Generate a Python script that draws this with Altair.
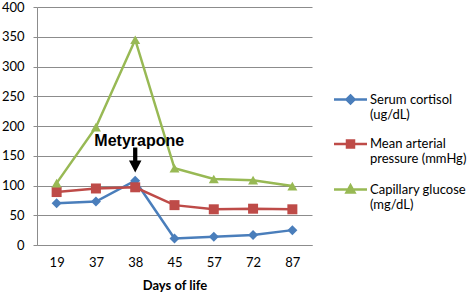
import altair as alt
import pandas as pd

# ---- data ----
days = ["19", "37", "38", "45", "57", "72", "87"]
cortisol = [70, 73, 108, 11, 14, 17, 25]
mean_arterial = [89, 95, 97, 67, 60, 61, 60]
glucose = [104, 198, 345, 129, 111, 109, 99]

series_names = [
    "Serum cortisol|(ug/dL)",
    "Mean arterial|pressure (mmHg)",
    "Capillary glucose|(mg/dL)",
]
series_values = [cortisol, mean_arterial, glucose]
colors = ["#4A7EBB", "#BE4B48", "#98B954"]
marker_shapes = ["diamond", "square", "triangle-up"]
legend_paths = [
    "M-3.3,0H3.3M0,-0.8L0.8,0L0,0.8L-0.8,0Z",
    "M-3.3,0H3.3M-0.7,-0.7H0.7V0.7H-0.7Z",
    "M-3.3,0H3.3M0,-0.85L0.8,0.6H-0.8Z",
]

annotation_label = ["Metyrapone"]
annotation_day = ["38"]
annotation_text_value = [167]
annotation_arrow_value = [143]

y_ticks = list(range(0, 401, 50))

FONT = "Lato"
GRID = "#8C8C8C"

rows = []
for name, vals in zip(series_names, series_values):
    for d, v in zip(days, vals):
        rows.append({"day": d, "value": v, "series": name})
df = pd.DataFrame(rows)

ann_text = pd.DataFrame({"day": annotation_day, "value": annotation_text_value, "label": annotation_label})
ann_arrow = pd.DataFrame({"day": annotation_day, "value": annotation_arrow_value})

x_enc = alt.X(
    "day:O",
    sort=days,
    scale=alt.Scale(type="point", domain=days, padding=0.5),
    axis=alt.Axis(
        title="Days of life",
        labelAngle=0,
        ticks=False,
        grid=False,
        domainColor=GRID,
        labelFont=FONT,
        labelFontSize=13,
        labelColor="#000000",
        labelPadding=11,
        titleFont=FONT,
        titleFontSize=13,
        titleFontWeight="bold",
        titleColor="#000000",
        titlePadding=10,
    ),
)
y_enc = alt.Y(
    "value:Q",
    scale=alt.Scale(domain=[0, 400], nice=False, zero=True),
    axis=alt.Axis(
        title=None,
        values=y_ticks,
        grid=True,
        gridColor=GRID,
        domainColor=GRID,
        tickColor=GRID,
        tickSize=4,
        labelFont=FONT,
        labelFontSize=13,
        labelColor="#000000",
        labelPadding=9,
    ),
)

series_layers = []
for name, col, shp in zip(series_names, colors, marker_shapes):
    base = alt.Chart(df).transform_filter(alt.datum.series == name)
    series_layers.append(
        base.mark_line(strokeWidth=2.5, color=col).encode(x=x_enc, y=y_enc)
    )
for name, col, shp in zip(series_names, colors, marker_shapes):
    base = alt.Chart(df).transform_filter(alt.datum.series == name)
    series_layers.append(
        base.mark_point(filled=True, shape=shp, size=100, opacity=1, color=col).encode(x=x_enc, y=y_enc)
    )

leg = alt.Legend(
    title=None,
    orient="none",
    legendX=307,
    legendY=86,
    labelExpr="split(datum.label, '|')",
    labelFont=FONT,
    labelFontSize=13,
    labelColor="#000000",
    labelLimit=300,
    labelOffset=13,
    rowPadding=13.5,
    symbolStrokeWidth=2.5,
    padding=0,
)

# legend-only layer: its marks are pushed outside the plot and clipped away
legend_layer = (
    alt.Chart(df)
    .transform_calculate(value="-1000")
    .mark_point(filled=True, size=100, strokeWidth=2.5, opacity=1, clip=True)
    .encode(
        x=x_enc, y=y_enc,
        fill=alt.Fill("series:N", scale=alt.Scale(domain=series_names, range=colors), legend=leg),
        stroke=alt.Stroke("series:N", scale=alt.Scale(domain=series_names, range=colors), legend=leg),
        shape=alt.Shape("series:N", scale=alt.Scale(domain=series_names, range=legend_paths), legend=leg),
    )
)

text = alt.Chart(ann_text).mark_text(
    font="Liberation Sans", fontSize=16, fontWeight="bold", color="#000000",
    baseline="alphabetic", align="center", dx=4,
).encode(x=x_enc, y=y_enc, text="label:N")

arrow = alt.Chart(ann_arrow).mark_point(
    shape="M-0.17,-1H0.17V0.05H0.5L0,1L-0.5,0.05H-0.17Z",
    filled=True, size=625, color="#000000", opacity=1,
).encode(x=x_enc, y=y_enc)

chart = (
    alt.layer(*series_layers, legend_layer, text, arrow)
    .properties(
        width=275,
        height=238,
        autosize=alt.AutoSizeParams(type="none"),
        padding={"left": 37, "top": 7, "right": 161, "bottom": 51},
        background="#FFFFFF",
    )
    .configure_view(stroke=None)
)

chart.save("out.html", embed_options={"renderer": "svg", "actions": False})
